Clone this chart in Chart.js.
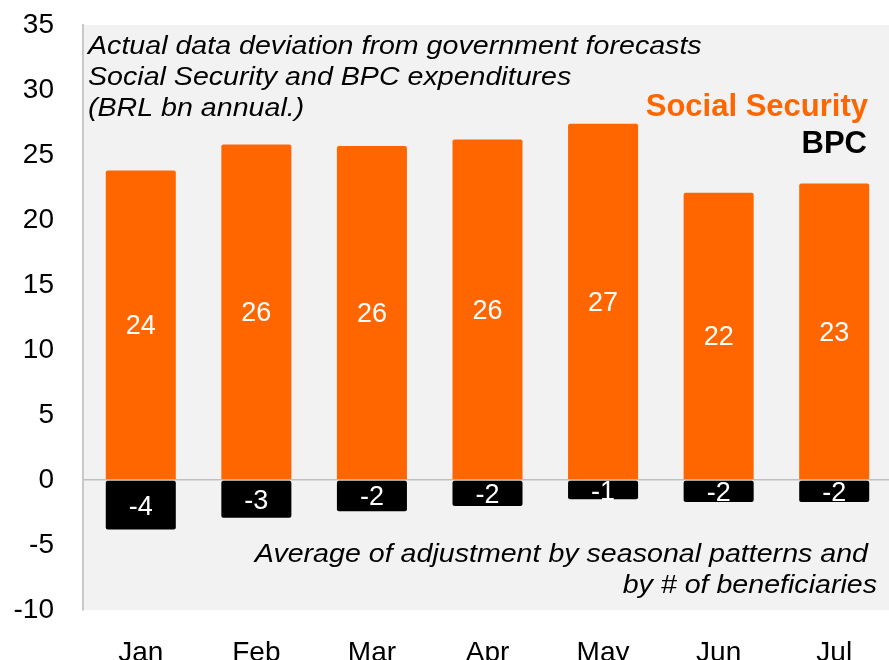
<!DOCTYPE html>
<html>
<head>
<meta charset="utf-8">
<script src="https://cdn.jsdelivr.net/npm/chart.js@4.4.0/dist/chart.umd.min.js"></script>
<style>
  html, body { margin: 0; padding: 0; background: #fff; overflow: hidden; }
  #wrap { position: relative; width: 900px; height: 680px; }
</style>
</head>
<body>
<div id="wrap"><canvas id="chart"></canvas></div>
<script>
const months = ['Jan', 'Feb', 'Mar', 'Apr', 'May', 'Jun', 'Jul'];
const socialSecurity = [23.8, 25.8, 25.7, 26.2, 27.4, 22.1, 22.8];
const bpc = [-3.8, -2.9, -2.4, -2.0, -1.49, -1.7, -1.7];
const yTicks = [-10, -5, 0, 5, 10, 15, 20, 25, 30, 35];

const FONT = '"Liberation Sans", Arial, sans-serif';
const ORANGE = '#ff6600';

// grey plot background, drawn under the bars
const plotBg = {
  id: 'plotBg',
  beforeDraw(chart) {
    const { ctx, chartArea: a } = chart;
    ctx.save();
    ctx.fillStyle = '#f2f2f2';
    ctx.fillRect(a.left, a.top, a.right - a.left, a.bottom - a.top);
    ctx.restore();
  }
};

// the notes are set a little wider than the font's own width
function wideText(ctx, text, x, y, align) {
  ctx.save();
  ctx.translate(x, y);
  ctx.scale(1.1, 1);
  ctx.textAlign = align;
  ctx.fillText(text, 0, 0);
  ctx.restore();
}

// values inside the bars, plus the notes and the legend text
const overlay = {
  id: 'overlay',
  afterDatasetsDraw(chart) {
    const ctx = chart.ctx;
    ctx.save();
    ctx.textAlign = 'center';
    ctx.textBaseline = 'middle';
    ctx.fillStyle = '#fff';
    ctx.font = '27px ' + FONT;
    chart.data.datasets.forEach((ds, i) => {
      chart.getDatasetMeta(i).data.forEach((bar, j) => {
        const v = Math.round(ds.data[j]);
        const mid = (bar.y + bar.base) / 2;
        ctx.fillText(String(v), bar.x, mid + 2);
      });
    });

    ctx.fillStyle = '#000';
    ctx.font = 'italic 26px ' + FONT;
    ctx.textBaseline = 'alphabetic';
    wideText(ctx, 'Actual data deviation from government forecasts', 88, 54, 'left');
    wideText(ctx, 'Social Security and BPC expenditures', 88, 85, 'left');
    wideText(ctx, '(BRL bn annual.)', 88, 116, 'left');

    wideText(ctx, 'Average of adjustment by seasonal patterns and', 868, 562, 'right');
    wideText(ctx, 'by # of beneficiaries', 877, 593, 'right');

    ctx.textAlign = 'right';
    ctx.font = 'bold 31px ' + FONT;
    ctx.fillStyle = ORANGE;
    ctx.fillText('Social Security', 868, 116);
    ctx.fillStyle = '#000';
    ctx.fillText('BPC', 867, 153);
    ctx.restore();
  }
};

new Chart(document.getElementById('chart'), {
  type: 'bar',
  data: {
    labels: months,
    datasets: [
      {
        label: 'Social Security',
        data: socialSecurity,
        backgroundColor: ORANGE,
        borderRadius: 2,
        borderSkipped: 'start',
        barPercentage: 0.606,
        categoryPercentage: 1
      },
      {
        label: 'BPC',
        data: bpc,
        backgroundColor: '#000',
        borderRadius: 2,
        borderSkipped: false,
        barPercentage: 0.606,
        categoryPercentage: 1
      }
    ]
  },
  options: {
    responsive: true,
    maintainAspectRatio: false,
    animation: false,
    layout: { padding: { top: 25, right: 8, left: 0, bottom: 0 } },
    plugins: {
      legend: { display: false },
      tooltip: { enabled: false }
    },
    scales: {
      x: {
        stacked: true,
        grid: { display: false, drawTicks: false },
        border: { display: false },
        ticks: { color: '#000', padding: 26, font: { family: FONT, size: 28 } },
        afterFit(scale) {
          scale.height = 70;
          scale.paddingLeft = 0;
          scale.paddingRight = 0;
        }
      },
      y: {
        stacked: true,
        min: -10,
        max: 35,
        afterBuildTicks(scale) { scale.ticks = yTicks.map(v => ({ value: v })); },
        grid: {
          drawTicks: false,
          color: ctx => ctx.tick && ctx.tick.value === 0 ? '#bfbfbf' : 'rgba(0,0,0,0)',
          lineWidth: 1.5
        },
        border: { display: true, color: '#c8c8c8', width: 2 },
        ticks: { color: '#000', padding: 29, font: { family: FONT, size: 28 } },
        afterFit(scale) {
          scale.width = 83;
          scale.paddingTop = 0;
          scale.paddingBottom = 0;
        }
      }
    }
  },
  plugins: [plotBg, overlay]
});
</script>
</body>
</html>
